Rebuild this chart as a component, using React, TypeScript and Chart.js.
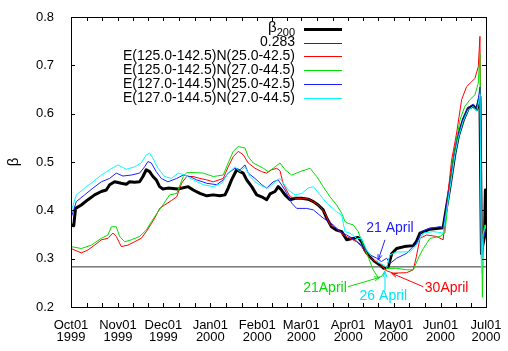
import React, { useEffect, useRef } from "react";
import { Chart, registerables } from "chart.js";
Chart.register(...registerables);

// x values are days since 1 Oct 1999
const monthTicks = [0, 31, 61, 92, 123, 152, 183, 213, 244, 274];
const monthLabels = [
  ["Oct01", "1999"], ["Nov01", "1999"], ["Dec01", "1999"], ["Jan01", "2000"], ["Feb01", "2000"],
  ["Mar01", "2000"], ["Apr01", "2000"], ["May01", "2000"], ["Jun01", "2000"], ["Jul01", "2000"],
];
const yTicks = [0.2, 0.3, 0.4, 0.5, 0.6, 0.7, 0.8];

const seriesNames = ["β_200", "0.283", "E(125.0-142.5)N(25.0-42.5)", "E(125.0-142.5)N(27.0-44.5)", "E(127.0-144.5)N(25.0-42.5)", "E(127.0-144.5)N(27.0-44.5)"];
const seriesColors = ["#000000", "#333333", "#ff0000", "#00dd00", "#2020ff", "#00ffff"];

const blackDays = [0, 1.8, 3, 6.8, 11.2, 15.6, 20, 23.3, 25.5, 28.8, 33.2, 36.5, 38.7, 42, 45.3, 47.5, 49.7, 51.9, 54.1, 56.3, 58.5, 60.7, 64, 70.6, 77.4, 80.7, 85.1, 89.6, 93.9, 98.3, 101.7, 103.8, 106, 109.4, 111.6, 113.7, 116, 119.3, 122.6, 125.9, 129.2, 131.4, 134.7, 136.8, 139, 141.3, 144.6, 147.9, 152.3, 156.6, 160, 163.2, 166.5, 168.8, 172, 175.4, 178.7, 182, 186.3, 189.6, 191.9, 194, 197.4, 200.7, 204, 206.5, 209.4, 211.7, 215, 220, 226, 228, 230.4, 237, 245.7, 248, 250.2, 253.5, 255.7, 259, 262.3, 265.6, 267.8, 268.9, 270, 271, 272, 273, 273.6, 274];
const blackVals = [0.37, 0.368, 0.404, 0.411, 0.422, 0.432, 0.439, 0.442, 0.453, 0.459, 0.456, 0.454, 0.459, 0.458, 0.459, 0.47, 0.484, 0.48, 0.47, 0.463, 0.449, 0.444, 0.446, 0.444, 0.449, 0.442, 0.435, 0.43, 0.432, 0.43, 0.432, 0.446, 0.463, 0.484, 0.48, 0.477, 0.463, 0.449, 0.432, 0.428, 0.422, 0.434, 0.439, 0.449, 0.442, 0.432, 0.422, 0.425, 0.425, 0.423, 0.418, 0.411, 0.401, 0.384, 0.366, 0.359, 0.356, 0.339, 0.342, 0.344, 0.335, 0.318, 0.304, 0.294, 0.287, 0.28, 0.283, 0.31, 0.321, 0.325, 0.327, 0.335, 0.353, 0.361, 0.364, 0.408, 0.449, 0.518, 0.553, 0.587, 0.611, 0.616, 0.609, 0.622, 0.635, 0.31, 0.33, 0.345, 0.442, 0.36];

const refDays = [0, 274];
const refVals = [0.283, 0.283];

const redDays = [0, 6.8, 11.2, 15.6, 20, 24.4, 27.7, 29.9, 33.2, 37.6, 42, 46.4, 49.7, 53.2, 56.3, 58.5, 61.8, 66.2, 69.8, 73, 76.4, 80.7, 85.1, 89.6, 93.9, 100.5, 103.8, 107.1, 110.4, 113.7, 117, 121.5, 125.9, 129.2, 132.5, 135.8, 138, 140, 144.6, 149, 155.6, 160, 164.4, 167.7, 171, 175.4, 179.7, 184.2, 188.6, 191.9, 195.2, 199.5, 204, 208.4, 212.7, 221.6, 226, 228, 230.4, 234.8, 241.4, 245.7, 248, 251.3, 254.6, 257.9, 261.2, 264.5, 266.7, 268.9, 270, 271, 272, 273, 274];
const redVals = [0.321, 0.312, 0.318, 0.328, 0.339, 0.342, 0.353, 0.346, 0.325, 0.328, 0.335, 0.342, 0.356, 0.373, 0.39, 0.404, 0.411, 0.42, 0.428, 0.456, 0.47, 0.47, 0.466, 0.463, 0.459, 0.466, 0.49, 0.511, 0.522, 0.515, 0.498, 0.487, 0.48, 0.477, 0.484, 0.487, 0.482, 0.456, 0.428, 0.425, 0.425, 0.418, 0.408, 0.394, 0.37, 0.363, 0.349, 0.342, 0.335, 0.325, 0.308, 0.297, 0.29, 0.275, 0.27, 0.271, 0.277, 0.304, 0.342, 0.349, 0.346, 0.339, 0.408, 0.504, 0.56, 0.629, 0.656, 0.666, 0.673, 0.697, 0.76, 0.29, 0.34, 0.36, 0.37];

const greenDays = [0, 6.8, 13.4, 20, 24.4, 26.6, 29.9, 32.1, 35.4, 39.8, 45.3, 49.7, 53.2, 57.4, 60.7, 65.1, 69.8, 74.1, 76.4, 83, 87.3, 93.9, 100.5, 103.8, 107.1, 110.4, 114.9, 117, 120.3, 127, 130.2, 133.5, 138, 141.3, 145.7, 151.2, 157.8, 162.2, 166.5, 171, 175.4, 178.7, 180.9, 183, 186.3, 189.6, 193, 196.2, 199.5, 202.8, 205, 208.4, 215, 221.6, 226, 229.3, 232.6, 237, 243.6, 246.9, 249, 252.3, 256.8, 260, 263.4, 266.7, 268.9, 270, 271, 271.6, 272.5, 273.3, 274];
const greenVals = [0.325, 0.321, 0.328, 0.342, 0.349, 0.366, 0.366, 0.346, 0.335, 0.339, 0.346, 0.359, 0.377, 0.397, 0.411, 0.432, 0.435, 0.47, 0.478, 0.478, 0.477, 0.47, 0.473, 0.498, 0.522, 0.532, 0.529, 0.511, 0.498, 0.487, 0.48, 0.487, 0.498, 0.484, 0.473, 0.48, 0.487, 0.47, 0.449, 0.428, 0.411, 0.394, 0.377, 0.373, 0.37, 0.356, 0.328, 0.304, 0.277, 0.261, 0.263, 0.28, 0.28, 0.277, 0.277, 0.301, 0.321, 0.342, 0.346, 0.353, 0.422, 0.504, 0.587, 0.615, 0.629, 0.639, 0.663, 0.725, 0.4, 0.22, 0.36, 0.37, 0.36];

const blueDays = [0, 3.5, 9, 14.5, 20, 25.5, 29.9, 34.3, 39.8, 45.3, 48.6, 50.8, 53, 56.3, 59.6, 64, 69.8, 74.1, 78.5, 83, 89.6, 96.2, 100.5, 103.8, 108.3, 111.6, 114.9, 117, 121.5, 125.9, 129.2, 133.5, 136.8, 141.3, 145.7, 149, 155.6, 160, 166.5, 173.1, 177.6, 182, 187.5, 193, 197.4, 201.8, 205, 208.4, 210.6, 215, 221.6, 228, 231.5, 237, 243.6, 245.7, 248, 250.2, 253.5, 255.7, 259, 262.3, 265.6, 267.8, 268.9, 270, 271, 272, 273, 274];
const blueVals = [0.384, 0.418, 0.432, 0.446, 0.459, 0.466, 0.477, 0.471, 0.473, 0.477, 0.49, 0.501, 0.498, 0.48, 0.466, 0.459, 0.466, 0.473, 0.47, 0.463, 0.456, 0.453, 0.463, 0.477, 0.487, 0.484, 0.494, 0.477, 0.466, 0.453, 0.446, 0.459, 0.463, 0.442, 0.415, 0.404, 0.404, 0.401, 0.384, 0.37, 0.356, 0.349, 0.339, 0.325, 0.308, 0.301, 0.294, 0.301, 0.29, 0.301, 0.311, 0.332, 0.356, 0.363, 0.366, 0.363, 0.41, 0.45, 0.52, 0.555, 0.59, 0.613, 0.62, 0.612, 0.63, 0.655, 0.3, 0.34, 0.35, 0.36];

const cyanDays = [0, 3.5, 9, 14.5, 20, 25.5, 31, 36.5, 42, 46.4, 49.7, 51.9, 54.1, 57.4, 61.8, 66.2, 70.8, 75.2, 80.7, 87.3, 93.9, 99.5, 103.8, 108.3, 111.6, 114.9, 118.2, 122.6, 127, 130.2, 134.7, 138, 143.4, 147.9, 152.3, 156.6, 160, 164.4, 168.8, 175.4, 178.7, 180.9, 184.2, 188.6, 191.9, 195.2, 198.5, 201.8, 206.1, 208.5, 210.6, 215, 223.8, 228, 232.6, 239.2, 245.7, 248, 250.2, 253.5, 255.7, 259, 262.3, 265.6, 267.8, 268.9, 270, 271, 272, 273, 274];
const cyanVals = [0.397, 0.432, 0.446, 0.459, 0.473, 0.484, 0.494, 0.485, 0.49, 0.498, 0.515, 0.518, 0.508, 0.487, 0.47, 0.466, 0.477, 0.473, 0.463, 0.453, 0.449, 0.456, 0.477, 0.49, 0.48, 0.49, 0.47, 0.456, 0.449, 0.446, 0.459, 0.466, 0.442, 0.432, 0.435, 0.446, 0.449, 0.432, 0.415, 0.397, 0.39, 0.356, 0.353, 0.342, 0.342, 0.318, 0.304, 0.294, 0.287, 0.282, 0.308, 0.314, 0.314, 0.328, 0.353, 0.356, 0.353, 0.4, 0.445, 0.515, 0.55, 0.585, 0.608, 0.615, 0.605, 0.62, 0.64, 0.27, 0.35, 0.36, 0.37];

// annotations: label, colour, text position (day, value), arrow from -> to (day, value)
const noteTexts = ["21 April", "21April", "26 April", "30April"];
const noteColors = ["#2020ff", "#00dd00", "#00e5ff", "#ff0000"];
const noteTextPos = [[210.6, 0.3636], [167.7, 0.240], [206.2, 0.2228], [248, 0.238]];
const noteArrowFrom = [[207.3, 0.339], [183, 0.242], [207.3, 0.235], [232.5, 0.242]];
const noteArrowTo = [[202.8, 0.297], [204, 0.2615], [207.3, 0.273], [211.7, 0.2698]];

const FONT = "'Liberation Sans', Arial, Helvetica, sans-serif";

const toPts = (d: number[], v: number[]) => d.map((x, i) => ({ x, y: v[i] }));

const gnuplotDecor = {
  id: "gnuplotDecor",
  afterDatasetsDraw(chart: any) {
    const ctx = chart.ctx as CanvasRenderingContext2D;
    const a = chart.chartArea;
    const xs = chart.scales.x;
    const ys = chart.scales.y;
    ctx.save();
    // frame
    ctx.strokeStyle = "#000";
    ctx.lineWidth = 1;
    ctx.strokeRect(Math.round(a.left) + 0.5, Math.round(a.top) + 0.5, Math.round(a.right - a.left), Math.round(a.bottom - a.top));
    // inward ticks
    const tl = 4;
    ctx.beginPath();
    const xTick = (px: number) => {
      const p = Math.round(px) + 0.5;
      ctx.moveTo(p, a.bottom); ctx.lineTo(p, a.bottom - tl);
      ctx.moveTo(p, a.top); ctx.lineTo(p, a.top + tl);
    };
    for (let i = 0; i < monthTicks.length; i++) {
      xTick(xs.getPixelForValue(monthTicks[i]));
      if (i < monthTicks.length - 1) {
        const span = monthTicks[i + 1] - monthTicks[i];
        for (let k = 1; k < 3; k++) xTick(xs.getPixelForValue(monthTicks[i] + (span * k) / 3));
      }
    }
    for (const v of yTicks) {
      const p = Math.round(ys.getPixelForValue(v)) + 0.5;
      ctx.moveTo(a.left, p); ctx.lineTo(a.left + tl, p);
      ctx.moveTo(a.right, p); ctx.lineTo(a.right - tl, p);
    }
    ctx.stroke();

    // legend
    const textRight = a.left + 224;
    const s0 = a.left + 233;
    const s1 = a.left + 271;
    chart.data.datasets.forEach((ds: any, i: number) => {
      const y = i === 0 ? a.top + 12 : a.top + 25.5 + (i - 1) * 13.8;
      ctx.fillStyle = "#000";
      ctx.textBaseline = "middle";
      ctx.textAlign = "right";
      const name = seriesNames[i];
      if (name.includes("_")) {
        const [base, sub] = name.split("_");
        ctx.font = `11px ${FONT}`;
        ctx.fillText(sub, textRight, y + 4);
        const sw = ctx.measureText(sub).width;
        ctx.font = `15px ${FONT}`;
        ctx.fillText(base, textRight - sw, y - 1.5);
      } else {
        ctx.font = `14px ${FONT}`;
        ctx.fillText(name, textRight, y);
      }
      ctx.strokeStyle = ds.borderColor;
      ctx.lineWidth = i === 0 ? 3 : 1.2;
      ctx.beginPath();
      ctx.moveTo(s0, Math.round(y) + 0.5);
      ctx.lineTo(s1, Math.round(y) + 0.5);
      ctx.stroke();
    });

    // annotations
    for (let i = 0; i < noteTexts.length; i++) {
      ctx.fillStyle = noteColors[i];
      ctx.strokeStyle = noteColors[i];
      ctx.font = `14px ${FONT}`;
      ctx.textAlign = "center";
      ctx.textBaseline = "middle";
      ctx.fillText(noteTexts[i], xs.getPixelForValue(noteTextPos[i][0]), ys.getPixelForValue(noteTextPos[i][1]));
      const x0 = xs.getPixelForValue(noteArrowFrom[i][0]);
      const y0 = ys.getPixelForValue(noteArrowFrom[i][1]);
      const x1 = xs.getPixelForValue(noteArrowTo[i][0]);
      const y1 = ys.getPixelForValue(noteArrowTo[i][1]);
      ctx.lineWidth = 1;
      ctx.beginPath();
      ctx.moveTo(x0, y0);
      ctx.lineTo(x1, y1);
      const ang = Math.atan2(y1 - y0, x1 - x0);
      const h = 6;
      ctx.moveTo(x1 - h * Math.cos(ang - 0.35), y1 - h * Math.sin(ang - 0.35));
      ctx.lineTo(x1, y1);
      ctx.lineTo(x1 - h * Math.cos(ang + 0.35), y1 - h * Math.sin(ang + 0.35));
      ctx.stroke();
    }

    // y axis title
    ctx.fillStyle = "#000";
    ctx.font = `15px ${FONT}`;
    ctx.textAlign = "center";
    ctx.textBaseline = "middle";
    ctx.translate(14, (a.top + a.bottom) / 2);
    ctx.rotate(-Math.PI / 2);
    ctx.fillText("β", 0, 0);
    ctx.restore();
  },
};

export default function App() {
  const ref = useRef<HTMLCanvasElement | null>(null);
  useEffect(() => {
    document.body.style.margin = "0";
    const canvas = ref.current;
    if (!canvas) return;
    const allDays = [blackDays, refDays, redDays, greenDays, blueDays, cyanDays];
    const allVals = [blackVals, refVals, redVals, greenVals, blueVals, cyanVals];
    const widths = [3, 1, 1, 1, 1, 1];
    const datasets = allDays.map((d, i) => ({
      label: seriesNames[i],
      data: toPts(d, allVals[i]),
      borderColor: seriesColors[i],
      backgroundColor: seriesColors[i],
      borderWidth: widths[i],
      pointRadius: 0,
      tension: 0,
      fill: false,
      order: 10 - i,
      borderJoinStyle: "round" as const,
    }));
    const chart = new Chart(canvas, {
      type: "line",
      data: { datasets },
      options: {
        animation: false,
        responsive: false,
        devicePixelRatio: 1,
        layout: { padding: { top: 17, right: 22, left: 0, bottom: 0 } },
        plugins: { legend: { display: false }, tooltip: { enabled: false } },
        scales: {
          x: {
            type: "linear",
            min: 0,
            max: 274,
            grid: { display: false },
            border: { display: false },
            afterBuildTicks: (s: any) => {
              s.ticks = monthTicks.map((v) => ({ value: v }));
            },
            afterFit: (s: any) => {
              s.height = 44;
            },
            ticks: {
              autoSkip: false,
              maxRotation: 0,
              padding: 4,
              color: "#000",
              font: { family: FONT, size: 13, lineHeight: 0.95 },
              callback: (_v: any, i: number) => monthLabels[i],
            },
          },
          y: {
            type: "linear",
            min: 0.2,
            max: 0.8,
            grid: { display: false },
            border: { display: false },
            afterBuildTicks: (s: any) => {
              s.ticks = yTicks.map((v) => ({ value: v }));
            },
            afterFit: (s: any) => {
              s.width = 71;
            },
            ticks: {
              padding: 9,
              color: "#000",
              font: { family: FONT, size: 13 },
              callback: (v: any) => Number(v).toFixed(1),
            },
          },
        },
      },
      plugins: [gnuplotDecor],
    });
    return () => chart.destroy();
  }, []);
  return (
    <div style={{ width: 508, height: 351 }}>
      <canvas ref={ref} width={508} height={351} style={{ display: "block" }} />
    </div>
  );
}
